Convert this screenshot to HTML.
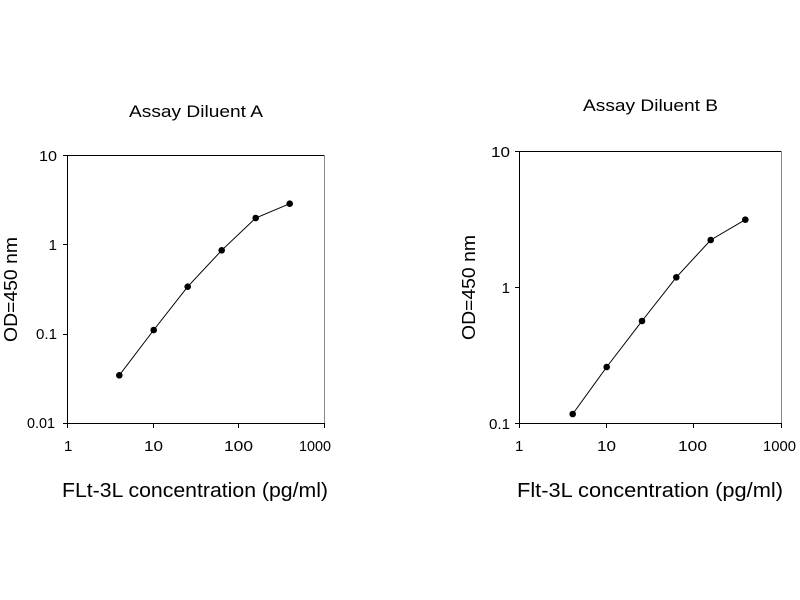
<!DOCTYPE html>
<html><head><meta charset="utf-8"><style>body{margin:0;background:#fff}svg{display:block}text{font-family:"Liberation Sans",Arial,sans-serif;fill:#000}</style></head><body>
<svg width="800" height="600" xmlns="http://www.w3.org/2000/svg">
<rect width="800" height="600" fill="#fff"/>
<!-- Left chart -->
<text x="129" y="117" font-size="16.5" textLength="134" lengthAdjust="spacingAndGlyphs">Assay Diluent A</text>
<line x1="68" y1="155.5" x2="324" y2="155.5" stroke="#000"/>
<line x1="324.5" y1="155" x2="324.5" y2="423" stroke="#888"/>
<line x1="67.5" y1="155" x2="67.5" y2="424" stroke="#000"/>
<line x1="67" y1="423.5" x2="324" y2="423.5" stroke="#000"/>
<g stroke="#000"><line x1="63" y1="155.5" x2="68" y2="155.5"/><line x1="63" y1="244.5" x2="68" y2="244.5"/><line x1="63" y1="334.5" x2="68" y2="334.5"/><line x1="63" y1="423.5" x2="68" y2="423.5"/>
<line x1="67.5" y1="423" x2="67.5" y2="428"/><line x1="153.5" y1="423" x2="153.5" y2="428"/><line x1="238.5" y1="423" x2="238.5" y2="428"/><line x1="324.5" y1="423" x2="324.5" y2="428"/></g>
<g font-size="15" text-anchor="end"><text x="57" y="161" textLength="18" lengthAdjust="spacingAndGlyphs">10</text><text x="57" y="250">1</text><text x="57" y="339" textLength="21" lengthAdjust="spacingAndGlyphs">0.1</text><text x="55" y="428" textLength="28" lengthAdjust="spacingAndGlyphs">0.01</text></g>
<g font-size="15"><text x="64" y="451">1</text><text x="144" y="451" textLength="19" lengthAdjust="spacingAndGlyphs">10</text><text x="224" y="451" textLength="29" lengthAdjust="spacingAndGlyphs">100</text><text x="299" y="451" textLength="32" lengthAdjust="spacingAndGlyphs">1000</text></g>
<text transform="translate(17,342) rotate(-90)" font-size="18.5" textLength="105" lengthAdjust="spacingAndGlyphs">OD=450 nm</text>
<text x="62" y="497" font-size="20" textLength="266" lengthAdjust="spacingAndGlyphs">FLt-3L concentration (pg/ml)</text>
<polyline points="119.3,375.3 153.7,330 187.7,286.7 221.7,250.3 255.7,218 289.7,203.7" fill="none" stroke="#000"/>
<g fill="#000"><circle cx="119.3" cy="375.3" r="3.3"/><circle cx="153.7" cy="330" r="3.3"/><circle cx="187.7" cy="286.7" r="3.3"/><circle cx="221.7" cy="250.3" r="3.3"/><circle cx="255.7" cy="218" r="3.3"/><circle cx="289.7" cy="203.7" r="3.3"/></g>
<!-- Right chart -->
<text x="583" y="111" font-size="16.5" textLength="135" lengthAdjust="spacingAndGlyphs">Assay Diluent B</text>
<line x1="519" y1="151.5" x2="781" y2="151.5" stroke="#000"/>
<line x1="781.5" y1="151" x2="781.5" y2="423" stroke="#888"/>
<line x1="519.5" y1="151" x2="519.5" y2="424" stroke="#000"/>
<line x1="519" y1="423.5" x2="781" y2="423.5" stroke="#000"/>
<g stroke="#000"><line x1="515" y1="151.5" x2="520" y2="151.5"/><line x1="515" y1="287.5" x2="520" y2="287.5"/><line x1="515" y1="423.5" x2="520" y2="423.5"/>
<line x1="519.5" y1="423" x2="519.5" y2="428"/><line x1="606.5" y1="423" x2="606.5" y2="428"/><line x1="693.5" y1="423" x2="693.5" y2="428"/><line x1="781.5" y1="423" x2="781.5" y2="428"/></g>
<g font-size="15" text-anchor="end"><text x="510" y="157" textLength="19" lengthAdjust="spacingAndGlyphs">10</text><text x="510" y="293">1</text><text x="510" y="429" textLength="21" lengthAdjust="spacingAndGlyphs">0.1</text></g>
<g font-size="15"><text x="515" y="451">1</text><text x="597" y="451" textLength="19" lengthAdjust="spacingAndGlyphs">10</text><text x="678" y="451" textLength="29" lengthAdjust="spacingAndGlyphs">100</text><text x="763" y="451" textLength="33" lengthAdjust="spacingAndGlyphs">1000</text></g>
<text transform="translate(475,340) rotate(-90)" font-size="18.5" textLength="105" lengthAdjust="spacingAndGlyphs">OD=450 nm</text>
<text x="517" y="497" font-size="20" textLength="266" lengthAdjust="spacingAndGlyphs">Flt-3L concentration (pg/ml)</text>
<polyline points="572.7,414 606.7,367 642,321 676.3,277.3 710.7,240 745.3,219.7" fill="none" stroke="#000"/>
<g fill="#000"><circle cx="572.7" cy="414" r="3.3"/><circle cx="606.7" cy="367" r="3.3"/><circle cx="642" cy="321" r="3.3"/><circle cx="676.3" cy="277.3" r="3.3"/><circle cx="710.7" cy="240" r="3.3"/><circle cx="745.3" cy="219.7" r="3.3"/></g>
</svg>
</body></html>
